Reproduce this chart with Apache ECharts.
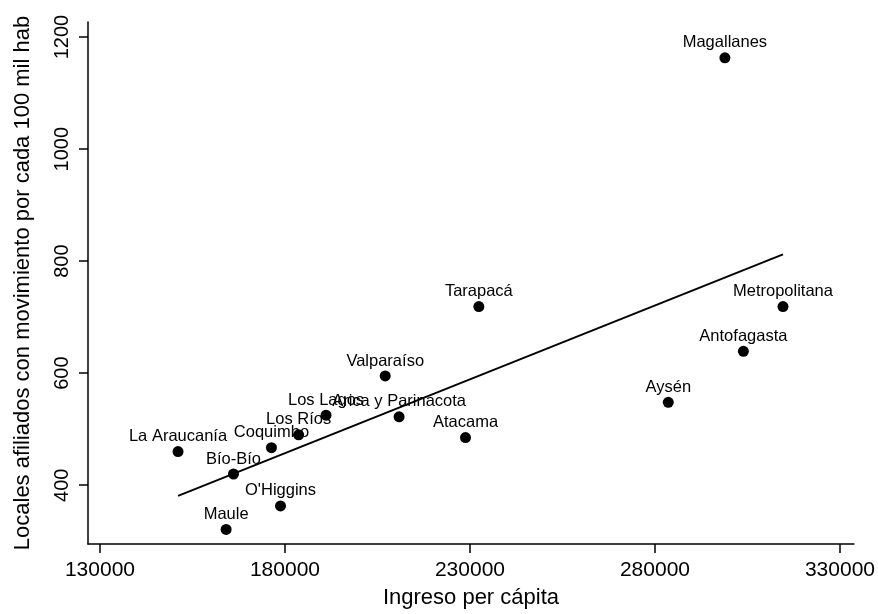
<!DOCTYPE html>
<html>
<head>
<meta charset="utf-8">
<script src="https://cdn.jsdelivr.net/npm/echarts@6/dist/echarts.min.js"></script>
<style>
  html, body { margin: 0; padding: 0; background: #fff; }
  #chart { width: 878px; height: 614px; }
</style>
</head>
<body>
<div id="chart"></div>
<script>
// regiones, ingreso per cápita y locales por cada 100 mil hab
const regions = ['Magallanes', 'Metropolitana', 'Antofagasta', 'Aysén', 'Tarapacá', 'Valparaíso',
  'Arica y Parinacota', 'Atacama', 'Los Lagos', 'Los Ríos', 'Coquimbo', 'La Araucanía',
  'Bío-Bío', "O'Higgins", 'Maule']
const ingreso = [298900, 314600, 303900, 283600, 232400, 207100, 210850, 228800, 191100,
  183700, 176350, 151100, 166100, 178800, 164100]
const locales = [1163, 719, 639, 548, 719, 595, 522, 485, 525, 490, 467, 460, 420, 363, 321]

// fitted line endpoints
const fitX = [151100, 314600]
const fitY = [381, 812]

const xTicks = [130000, 180000, 230000, 280000, 330000]
const yTicks = [400, 600, 800, 1000, 1200]

const chart = echarts.init(document.getElementById('chart'))
const font = 'Liberation Sans, Arial, Helvetica, sans-serif'

const option = {
  backgroundColor: '#fff',
  animation: false,
  grid: { left: 88, right: 22, top: 22, bottom: 68 },
  xAxis: {
    type: 'value',
    min: 126770,
    max: 333770,
    name: 'Ingreso per cápita',
    nameLocation: 'middle',
    nameGap: 43,
    nameTextStyle: { fontFamily: font, fontSize: 22, color: '#000' },
    axisLine: { show: true, onZero: false, lineStyle: { color: '#000', width: 1.5 } },
    axisTick: { show: true, length: 9, customValues: xTicks, lineStyle: { color: '#000', width: 1.5 } },
    axisLabel: {
      customValues: xTicks, margin: 16, fontFamily: font, fontSize: 21, color: '#000',
      formatter: v => String(v)
    },
    splitLine: { show: false }
  },
  yAxis: {
    type: 'value',
    min: 295,
    max: 1227,
    name: 'Locales afiliados con movimiento por cada 100 mil hab',
    nameLocation: 'middle',
    nameGap: 54,
    nameTextStyle: { fontFamily: font, fontSize: 22, color: '#000' },
    axisLine: { show: true, onZero: false, lineStyle: { color: '#000', width: 1.5 } },
    axisTick: { show: true, length: 9, customValues: yTicks, lineStyle: { color: '#000', width: 1.5 } },
    axisLabel: {
      customValues: yTicks, rotate: 90, margin: 16, fontFamily: font, fontSize: 20, color: '#000',
      formatter: v => String(v)
    },
    splitLine: { show: false }
  },
  series: [
    {
      type: 'line',
      data: fitX.map((x, i) => [x, fitY[i]]),
      showSymbol: false,
      lineStyle: { color: '#000', width: 2 },
      z: 2
    },
    {
      type: 'scatter',
      data: ingreso.map((x, i) => ({ name: regions[i], value: [x, locales[i]] })),
      symbolSize: 11,
      itemStyle: { color: '#000', opacity: 1 },
      label: {
        show: true,
        position: 'top',
        distance: 1,
        formatter: p => p.name,
        fontFamily: font,
        fontSize: 16.5,
        color: '#000'
      },
      z: 3
    }
  ]
}

chart.setOption(option)
</script>
</body>
</html>
